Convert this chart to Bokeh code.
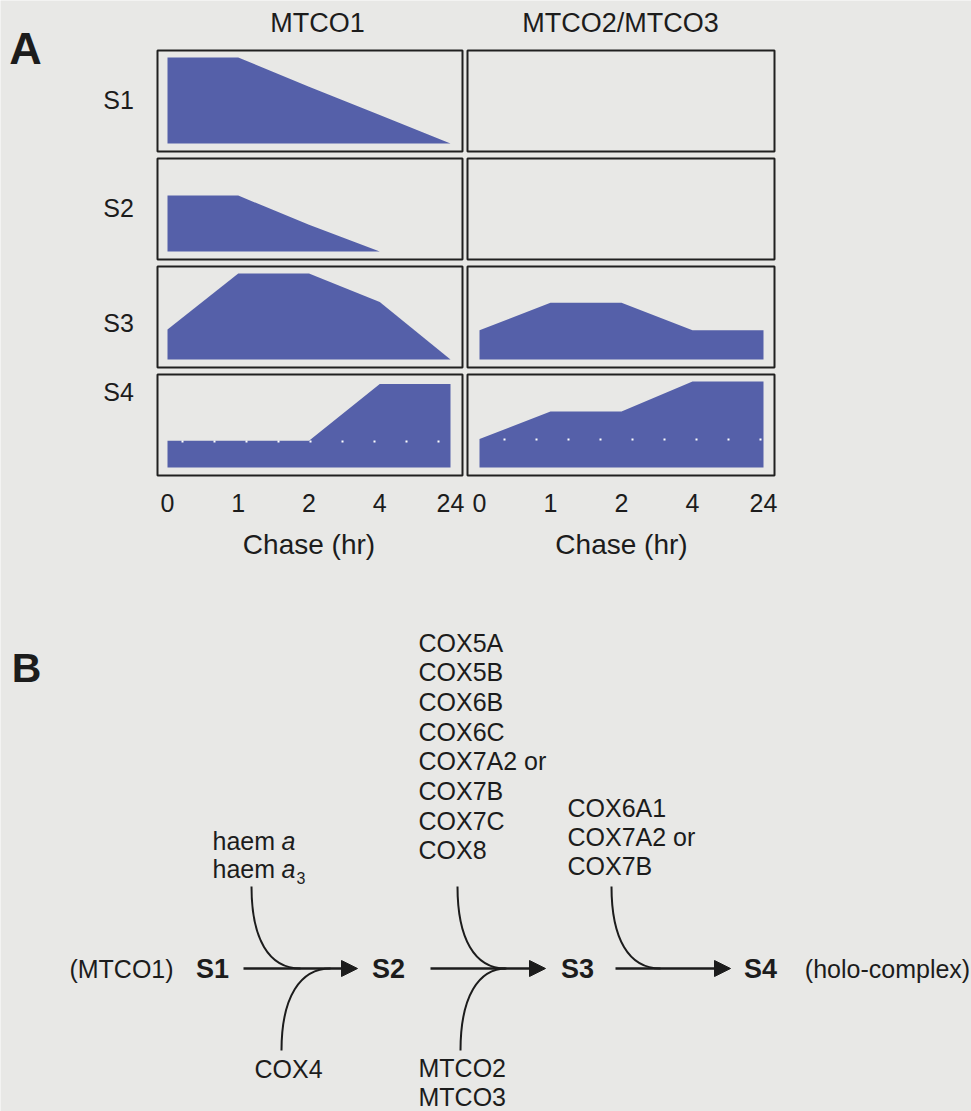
from bokeh.plotting import figure
from bokeh.models import Range1d, Arrow, NormalHead
from bokeh.core.properties import value
from bokeh.embed import file_html
from bokeh.resources import INLINE

# ---------------- data: relative band intensity per assembly stage ----------------
chase_hr = ["0", "1", "2", "4", "24"]
stages = ["S1", "S2", "S3", "S4"]
subunits = ["MTCO1", "MTCO2/MTCO3"]

mtco1_s1 = [1.00, 1.00, 0.66, 0.33, 0.00]
mtco1_s2 = [0.65, 0.65, 0.31, 0.00, 0.00]
mtco1_s3 = [0.35, 1.00, 1.00, 0.67, 0.00]
mtco1_s4 = [0.31, 0.31, 0.31, 0.97, 0.97]

mtco23_s1 = [0.00, 0.00, 0.00, 0.00, 0.00]
mtco23_s2 = [0.00, 0.00, 0.00, 0.00, 0.00]
mtco23_s3 = [0.34, 0.66, 0.66, 0.34, 0.34]
mtco23_s4 = [0.33, 0.65, 0.65, 1.00, 1.00]

# assembly pathway text (panel B)
s2_s3_added = ["COX5A", "COX5B", "COX6B", "COX6C", "COX7A2 or", "COX7B", "COX7C", "COX8"]
s2_s3_mtdna = ["MTCO2", "MTCO3"]
s3_s4_added = ["COX6A1", "COX7A2 or", "COX7B"]

# ---------------- styling / layout ----------------
W, H = 971, 1111
BG = "#e8e8e6"
INK = "#1c1c1c"
BLUE = "#5560a9"
FONT = "Liberation Sans"

p = figure(width=W, height=H, x_range=Range1d(0, W), y_range=Range1d(H, 0),
           output_backend="svg", toolbar_location=None,
           x_axis_location=None, y_axis_location=None, min_border=0,
           background_fill_color=BG, border_fill_color=BG,
           outline_line_color=None)
p.grid.visible = False


def label(x, y, s, size=25, style="normal", align="left", xr="default"):
    # y is the visual centre of the text line
    p.text(x=[x], y=[y], text=[s], text_font=value(FONT),
           text_font_size=f"{size}px", text_font_style=style, text_align=align,
           text_baseline="alphabetic", text_color=INK, x_range_name=xr)


# ---------------- panel A ----------------
box_left = [157, 467]
box_right = [462, 774]
box_top = [50, 158, 266, 374]
box_h = 101
# index position of first / last chase time inside each column
col_first = [167, 479]
col_last = [450, 763]

idx = list(range(len(chase_hr)))

for c in range(2):
    b = (col_last[c] - col_first[c]) / (len(idx) - 1)
    a = col_first[c]
    p.extra_x_ranges[f"c{c}"] = Range1d(start=(0 - a) / b, end=(W - a) / b)

for r in range(4):
    y0 = box_top[r] + box_h - 8      # intensity 0
    y1 = box_top[r] + 7              # intensity 1
    k = y0 - y1
    p.extra_y_ranges[f"r{r}"] = Range1d(start=(y0 - H) / k, end=y0 / k)

series = [[mtco1_s1, mtco1_s2, mtco1_s3, mtco1_s4],
          [mtco23_s1, mtco23_s2, mtco23_s3, mtco23_s4]]

for c in range(2):
    for r in range(4):
        vals = series[c][r]
        if max(vals) > 0:
            p.varea(x=idx, y1=[0] * len(idx), y2=vals, fill_color=BLUE,
                    x_range_name=f"c{c}", y_range_name=f"r{r}")
        p.quad(left=[box_left[c]], right=[box_right[c]], top=[box_top[r]],
               bottom=[box_top[r] + box_h], fill_color=None,
               line_color="#202020", line_width=2)

# faint dotted guide inside the S4 bands
p.line(x=[181, 440], y=[441, 441], line_color="white", line_width=2, line_dash="2 30")
p.line(x=[503, 761], y=[439, 439], line_color="white", line_width=2, line_dash="2 30")

# column titles and stage labels
title_x = [317, 620]
for c, name in enumerate(subunits):
    label(title_x[c], 22, name, size=27, align="center")

stage_y = [99, 207, 322, 391]
for r, s in enumerate(stages):
    label(118, stage_y[r], s, size=25, align="center")

# chase-time tick labels and axis titles
for c in range(2):
    p.text(x=idx, y=[502] * len(idx), text=chase_hr,
           text_font=value(FONT), text_font_size="25px", text_align="center",
           text_baseline="alphabetic", text_color=INK, x_range_name=f"c{c}")
    label(2, 544, "Chase (hr)", size=28, align="center", xr=f"c{c}")

label(25, 48, "A", size=45, style="bold", align="center")

# ---------------- panel B ----------------
label(26, 667, "B", size=41, style="bold", align="center")

ROW_Y = 968
label(121, ROW_Y, "(MTCO1)", align="center")
label(887, ROW_Y, "(holo-complex)", align="center")
for sx, s in zip([212, 388, 577, 760], stages):
    label(sx, ROW_Y, s, size=27, style="bold", align="center")

# main arrows between stages
for xs, xe in [(243, 357), (430, 545), (615, 730)]:
    p.add_layout(Arrow(end=NormalHead(size=16, fill_color=INK, line_color=INK, line_width=1),
                       x_start=xs, y_start=ROW_Y, x_end=xe, y_end=ROW_Y,
                       line_color=INK, line_width=2.5))

# curved feeders joining the arrows
feeders = [
    # x0, y0, cx0, cy0, cx1, cy1, x1, y1
    (251, 886, 251, 938, 268, ROW_Y, 300, ROW_Y),
    (281, 1050, 281, 996, 300, ROW_Y, 330, ROW_Y),
    (457, 886, 457, 938, 474, ROW_Y, 505, ROW_Y),
    (460, 1050, 460, 996, 478, ROW_Y, 506, ROW_Y),
    (611, 886, 611, 938, 628, ROW_Y, 660, ROW_Y),
]
p.bezier(x0=[f[0] for f in feeders], y0=[f[1] for f in feeders],
         cx0=[f[2] for f in feeders], cy0=[f[3] for f in feeders],
         cx1=[f[4] for f in feeders], cy1=[f[5] for f in feeders],
         x1=[f[6] for f in feeders], y1=[f[7] for f in feeders],
         line_color=INK, line_width=2)

# haem a / haem a3
label(212, 840, "haem")
label(281, 840, "a", style="italic")
label(212, 868, "haem")
label(281, 868, "a", style="italic")
label(296, 877, "3", size=16)

label(288, 1068, "COX4", align="center")

for i, s in enumerate(s2_s3_added):
    label(418, 642 + 29.7 * i, s)
for i, s in enumerate(s2_s3_mtdna):
    label(418, 1067 + 29 * i, s)
for i, s in enumerate(s3_s4_added):
    label(567, 807 + 29 * i, s)

open("out.html", "w").write(file_html(p, INLINE))
